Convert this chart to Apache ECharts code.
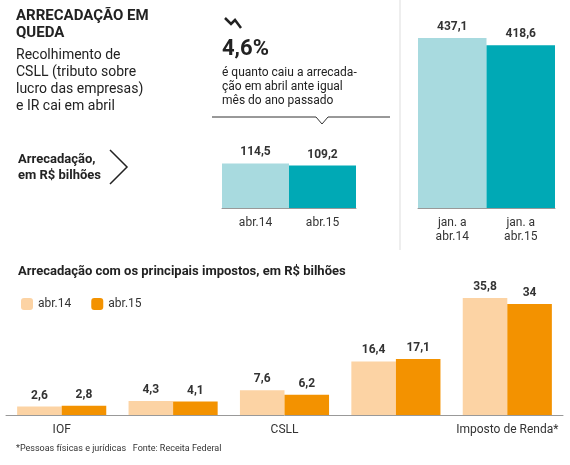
<!DOCTYPE html>
<html><head><meta charset="utf-8">
<script src="https://cdn.jsdelivr.net/npm/echarts@6/dist/echarts.min.js"></script>
<style>body{margin:0}#c{width:570px;height:465px}</style></head>
<body><div id="c"></div>
<script>
const monthCats=['abr.14','abr.15'];
const monthVals=[114.5,109.2];
const ytdCats=['jan. a\nabr.14','jan. a\nabr.15'];
const ytdVals=[437.1,418.6];
const taxCats=['IOF','IPI','CSLL','Cofins','Imposto de Renda*'];
const tax14=[2.6,4.3,7.6,16.4,35.8];
const tax15=[2.8,4.1,6.2,17.1,34];
const fmt=v=>String(v.value).replace('.',',');
const F='Roboto, sans-serif';
const c=echarts.init(document.getElementById('c'));
const lab={show:true,position:'top',formatter:fmt,fontFamily:F,fontSize:12,fontWeight:'bold',color:'#333'};
const catAx=(g,d)=>({type:'category',gridIndex:g,data:d,axisTick:{show:false},axisLine:{lineStyle:{color:'#999'}},axisLabel:{fontFamily:F,fontSize:12,color:'#333',margin:8,lineHeight:14}});
const valAx=(g,m)=>({type:'value',gridIndex:g,min:0,max:m,show:false});
c.setOption({
 animation:false,
 textStyle:{fontFamily:F},
 grid:[{left:222,width:134,top:38,height:170},{left:418,width:137,top:38,height:170},{left:6,width:557,top:298,height:117}],
 xAxis:[catAx(0,monthCats),catAx(1,ytdCats),catAx(2,taxCats)],
 yAxis:[valAx(0,437.1),valAx(1,437.1),valAx(2,35.8)],
 legend:{left:16,top:293,itemWidth:12,itemHeight:12,itemGap:20,textStyle:{fontFamily:F,fontSize:12,color:'#333'},data:['abr.14','abr.15']},
 series:[
  {type:'bar',xAxisIndex:0,yAxisIndex:0,barCategoryGap:0,label:lab,data:monthVals.map((v,i)=>({value:v,itemStyle:{color:i?'#00a9b5':'#a8dadf'}}))},
  {type:'bar',xAxisIndex:1,yAxisIndex:1,barCategoryGap:0,label:lab,data:ytdVals.map((v,i)=>({value:v,itemStyle:{color:i?'#00a9b5':'#a8dadf'}}))},
  {name:'abr.14',type:'bar',xAxisIndex:2,yAxisIndex:2,barGap:0,barCategoryGap:'20%',itemStyle:{color:'#fcd3a4'},label:lab,data:tax14},
  {name:'abr.15',type:'bar',xAxisIndex:2,yAxisIndex:2,itemStyle:{color:'#f39200'},label:lab,data:tax15}
 ],
 graphic:[
  {type:'text',left:16,top:8,style:{text:'ARRECADAÇÃO EM\nQUEDA',font:'bold 15px '+F,fill:'#222',lineHeight:17}},
  {type:'text',left:16,top:47,style:{text:'Recolhimento de\nCSLL (tributo sobre\nlucro das empresas)\ne IR cai em abril',font:'14px '+F,fill:'#222',lineHeight:17}},
  {type:'text',left:18,top:152,style:{text:'Arrecadação,\nem R$ bilhões',font:'bold 13px '+F,fill:'#222',lineHeight:16}},
  {type:'polyline',shape:{points:[[110,150],[127,167],[110,184]]},style:{stroke:'#222',lineWidth:1.5,fill:null}},
  {type:'polyline',shape:{points:[[225,18],[231,24],[235,20],[241,28]]},style:{stroke:'#222',lineWidth:2.5,fill:null}},
  {type:'text',left:222,top:38,style:{text:'4,6%',font:'bold 22px '+F,fill:'#222'}},
  {type:'text',left:222,top:66,style:{text:'é quanto caiu a arrecada-\nção em abril ante igual\nmês do ano passado',font:'12px '+F,fill:'#222',lineHeight:14}},
  {type:'polyline',shape:{points:[[212,117],[316,117],[322,124],[328,117],[390,117]]},style:{stroke:'#333',lineWidth:1,fill:null}},
  {type:'line',shape:{x1:400,y1:0,x2:400,y2:250},style:{stroke:'#ddd',lineWidth:1}},
  {type:'text',left:18,top:265,style:{text:'Arrecadação com os principais impostos, em R$ bilhões',font:'bold 13px '+F,fill:'#222'}},
  {type:'text',left:16,top:444,style:{text:'*Pessoas físicas e jurídicas   Fonte: Receita Federal',font:'9px '+F,fill:'#333'}}
 ]
});
</script></body></html>
